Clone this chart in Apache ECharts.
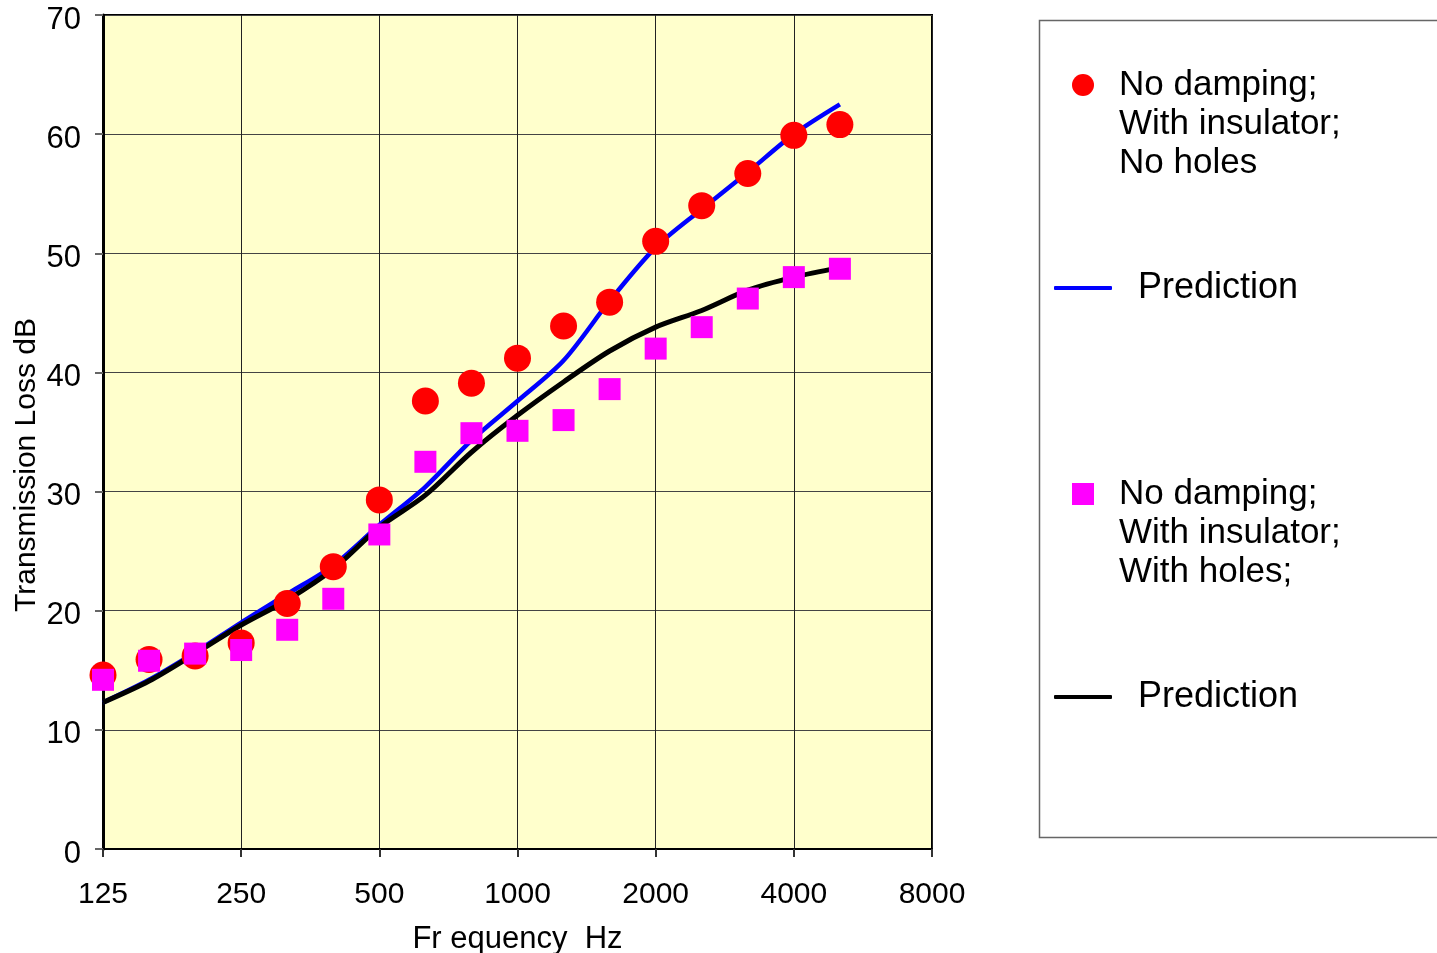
<!DOCTYPE html>
<html>
<head>
<meta charset="utf-8">
<script src="https://cdn.jsdelivr.net/npm/echarts@6/dist/echarts.min.js"></script>
<style>
  html, body { margin: 0; padding: 0; background: #fff; }
  #chart { width: 1437px; height: 953px; }
</style>
</head>
<body>
<div id="chart"></div>
<script>
// 1/3-octave bands, 125 Hz .. 8000 Hz
const freqLabels = ['125', '160', '200', '250', '315', '400', '500', '630', '800', '1000',
  '1250', '1600', '2000', '2500', '3150', '4000', '5000', '6300', '8000']

// measured, no holes (red circles)
const measNoHoles = [14.6, 15.9, 16.2, 17.3, 20.6, 23.7, 29.3, 37.6, 39.1, 41.2, 43.9, 45.9, 51.0, 54.0, 56.7, 59.9, 60.8]
// measured, with holes (magenta squares)
const measHoles = [14.2, 15.8, 16.4, 16.7, 18.4, 21.0, 26.4, 32.5, 34.9, 35.1, 36.0, 38.6, 42.0, 43.8, 46.2, 48.0, 48.7]
// predictions
const predNoHoles = [12.3, 14.2, 16.5, 19.0, 21.4, 23.8, 27.2, 30.4, 34.3, 37.6, 41.0, 46.0, 50.5, 53.7, 56.8, 60.0, 62.5]
const predHoles = [12.3, 14.1, 16.4, 18.8, 20.9, 23.5, 27.0, 29.7, 33.3, 36.4, 39.2, 41.8, 43.8, 45.2, 46.9, 48.0, 48.8]

const yTicks = { min: 0, max: 70, interval: 10 }

const FONT = "'Liberation Sans', Arial, sans-serif"

// two leading blank lines so the first text line sits level with the icon
const legendText = {
  'meas-noholes': '\n\nNo damping;\nWith insulator;\nNo holes',
  'pred-noholes': 'Prediction',
  'meas-holes': '\n\nNo damping;\nWith insulator;\nWith holes;',
  'pred-holes': 'Prediction'
}

const chart = echarts.init(document.getElementById('chart'))

function blockLegend(name, icon, top) {
  return {
    data: [name],
    orient: 'vertical',
    left: 1072,
    top: top,
    padding: 0,
    icon: icon,
    itemWidth: 22,
    itemHeight: 22,
    selectedMode: false,
    formatter: (n) => legendText[n],
    textStyle: {
      fontFamily: FONT,
      fontSize: 35,
      lineHeight: 39,
      color: '#000',
      padding: [0, 0, 0, 20]
    }
  }
}

function lineLegend(name, top) {
  return {
    data: [name],
    left: 1054,
    top: top,
    padding: 0,
    icon: 'roundRect',
    itemWidth: 58,
    itemHeight: 4,
    selectedMode: false,
    formatter: (n) => legendText[n],
    textStyle: {
      fontFamily: FONT,
      fontSize: 36,
      lineHeight: 39,
      color: '#000',
      padding: [0, 0, 0, 21]
    }
  }
}

chart.setOption({
  animation: false,
  backgroundColor: '#fff',
  grid: {
    left: 103,
    right: 505,
    top: 15,
    bottom: 104,
    containLabel: false,
    outerBoundsMode: 'none',
    show: true,
    backgroundColor: '#FFFFCC',
    borderColor: '#000',
    borderWidth: 2
  },
  graphic: [{
    type: 'rect',
    shape: { x: 1039.5, y: 20.5, width: 420, height: 817 },
    style: { fill: 'none', stroke: '#666', lineWidth: 1.5 },
    z: -1
  }],
  legend: [
    blockLegend('meas-noholes', 'circle', -12.5),
    lineLegend('pred-noholes', 268.5),
    blockLegend('meas-holes', 'rect', 396.5),
    lineLegend('pred-holes', 677.5)
  ],
  xAxis: {
    type: 'category',
    data: freqLabels,
    boundaryGap: false,
    name: 'Fr equency  Hz',
    nameLocation: 'middle',
    nameGap: 75,
    nameMoveOverlap: false,
    nameTextStyle: { fontFamily: FONT, fontSize: 31, color: '#000' },
    axisLine: { lineStyle: { color: '#000', width: 2 } },
    axisTick: { interval: 2, length: 8, lineStyle: { color: '#333', width: 2 } },
    axisLabel: { interval: 2, margin: 31, fontFamily: FONT, fontSize: 30, color: '#000' },
    splitLine: { show: true, interval: 2, lineStyle: { color: '#222', width: 1 } }
  },
  yAxis: {
    type: 'value',
    min: yTicks.min,
    max: yTicks.max,
    interval: yTicks.interval,
    name: 'Transmission Loss dB',
    nameLocation: 'middle',
    nameGap: 61,
    nameMoveOverlap: false,
    nameTextStyle: { fontFamily: FONT, fontSize: 30, color: '#000', padding: [0, 66, 0, 0] },
    axisLine: { show: true, lineStyle: { color: '#000', width: 3 } },
    axisTick: { show: true, length: 8, lineStyle: { color: '#666', width: 2 } },
    axisLabel: { margin: 22, verticalAlign: 'top', lineHeight: 10, fontFamily: FONT, fontSize: 31, color: '#000' },
    splitLine: { show: true, lineStyle: { color: '#444', width: 1 } }
  },
  series: [
    {
      name: 'pred-noholes',
      type: 'line',
      data: predNoHoles,
      symbol: 'none',
      smooth: 0.3,
      itemStyle: { color: '#0000FF' },
      lineStyle: { color: '#0000FF', width: 4.5 },
      z: 2
    },
    {
      name: 'pred-holes',
      type: 'line',
      data: predHoles,
      symbol: 'none',
      smooth: 0.3,
      itemStyle: { color: '#000' },
      lineStyle: { color: '#000', width: 5 },
      z: 3
    },
    {
      name: 'meas-noholes',
      type: 'scatter',
      data: measNoHoles,
      symbol: 'circle',
      symbolSize: 27,
      itemStyle: { color: '#FF0000', opacity: 1 },
      z: 4
    },
    {
      name: 'meas-holes',
      type: 'scatter',
      data: measHoles,
      symbol: 'rect',
      symbolSize: 22,
      itemStyle: { color: '#FF00FF', opacity: 1 },
      z: 5
    }
  ]
})
</script>
</body>
</html>
